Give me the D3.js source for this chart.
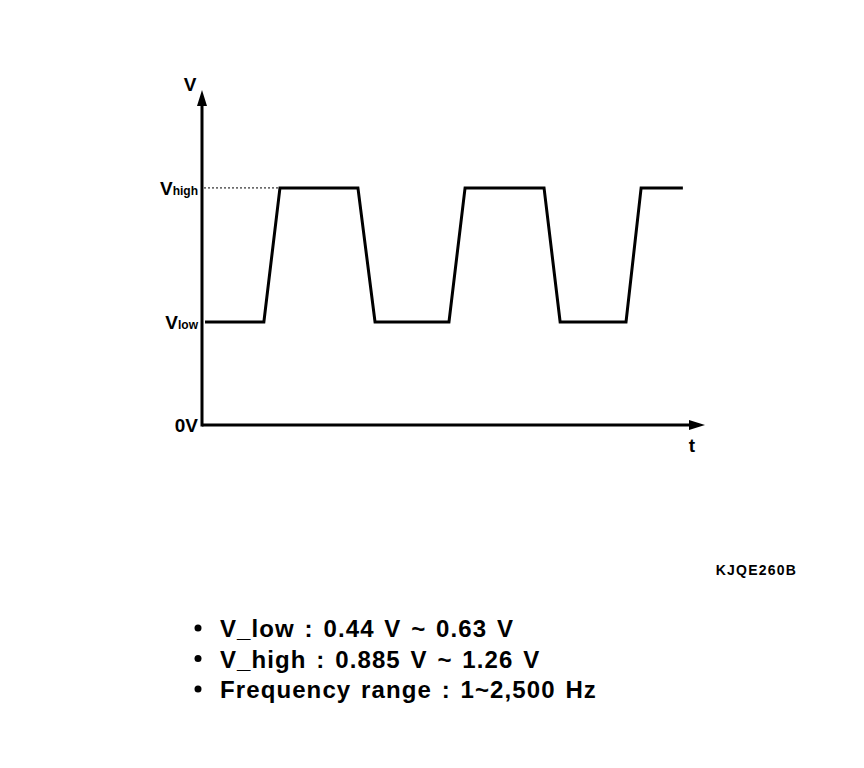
<!DOCTYPE html>
<html><head><meta charset="utf-8">
<script src="https://cdn.jsdelivr.net/npm/d3@7"></script>
<style>body{margin:0;background:#fff}svg{display:block}text{font-family:"Liberation Sans",Arial,sans-serif;font-weight:bold;fill:#000}</style>
</head><body>
<script>
// Data
const waveT = [0.06, 1.23, 1.55, 3.10, 3.44, 4.91, 5.23, 6.80, 7.12, 8.43, 8.73, 9.56];
const waveLevel = ["low","low","high","high","low","low","high","high","low","low","high","high"];
const levelValues = {low: 1, high: 2.3};
const yTickLabels = [{v:0, main:"0V", sub:""},{v:1, main:"V", sub:"low"},{v:2.3, main:"V", sub:"high"}];
const specLines = ["V_low : 0.44 V ~ 0.63 V", "V_high : 0.885 V ~ 1.26 V", "Frequency range : 1~2,500 Hz"];
const figureCode = "KJQE260B";

const W=864,H=768;
const svg=d3.select("body").append("svg").attr("width",W).attr("height",H);
const x=d3.scaleLinear().domain([0,10]).range([202,705]);
const y=d3.scaleLinear().domain([0,3.25]).range([425,90]);

// axes
svg.append("line").attr("x1",x(0)).attr("x2",x(10)-8).attr("y1",y(0)).attr("y2",y(0)).attr("stroke","#000").attr("stroke-width",3);
svg.append("line").attr("x1",x(0)).attr("x2",x(0)).attr("y1",y(0)+1.5).attr("y2",y(3.25)+10).attr("stroke","#000").attr("stroke-width",3);
// arrows
svg.append("path").attr("d",`M${x(10)},${y(0)} l-16,-5 l0,10 z`).attr("fill","#000");
svg.append("path").attr("d",`M${x(0)},${y(3.25)} l-5,16 l10,0 z`).attr("fill","#000");

svg.append("text").attr("x",x(0)-12).attr("y",y(3.25)+1).attr("text-anchor","middle").attr("font-size",19).text("V");
svg.append("text").attr("x",x(10)-13).attr("y",y(0)+27).attr("text-anchor","middle").attr("font-size",19).text("t");

// dotted guide to Vhigh
svg.append("line").attr("x1",x(0)+2).attr("x2",x(waveT[2])).attr("y1",y(levelValues.high)).attr("y2",y(levelValues.high))
  .attr("stroke","#000").attr("stroke-width",1).attr("stroke-dasharray","2,2");

// y labels
yTickLabels.forEach(d=>{
  const t=svg.append("text").attr("x",x(0)-4).attr("y",y(d.v)+7).attr("text-anchor","end").attr("font-size",19);
  t.append("tspan").text(d.main);
  if(d.sub) t.append("tspan").attr("font-size",12).attr("dy",0).text(d.sub);
});

// waveform
const pts=waveT.map((t,i)=>[x(t),y(levelValues[waveLevel[i]])]);
svg.append("path").attr("d",d3.line()(pts)).attr("fill","none").attr("stroke","#000").attr("stroke-width",3).attr("stroke-linejoin","miter");

svg.append("text").attr("x",797).attr("y",575).attr("text-anchor","end").attr("font-size",14).attr("letter-spacing",1.2).text(figureCode);

specLines.forEach((s,i)=>{
  const yy=637+i*30.5;
  svg.append("circle").attr("cx",198).attr("cy",yy-9).attr("r",3.5).attr("fill","#000");
  svg.append("text").attr("x",220).attr("y",yy).attr("font-size",24).attr("letter-spacing",1.1).attr("word-spacing",2).text(s);
});
</script>
</body></html>
